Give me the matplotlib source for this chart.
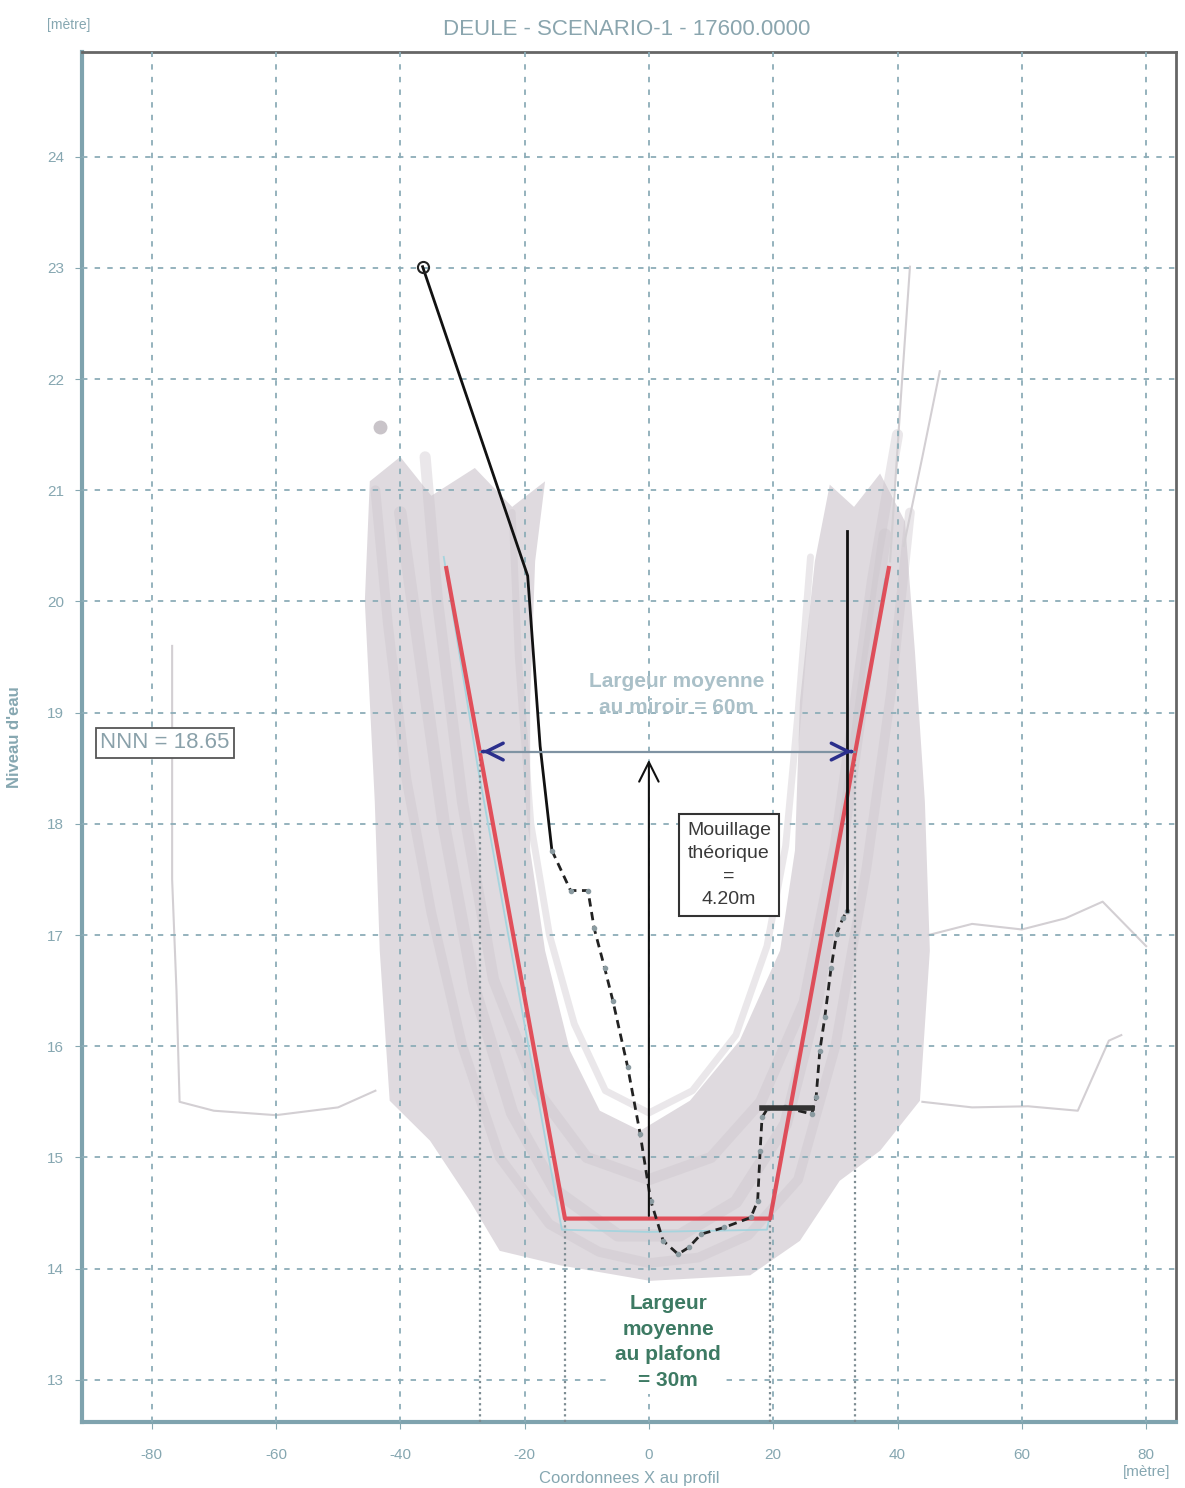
import matplotlib
matplotlib.use("Agg")
import matplotlib.pyplot as plt

plt.rcParams['font.family'] = ['Liberation Sans', 'DejaVu Sans']
plt.rcParams['axes.unicode_minus'] = False

# --- donnees lues sur le profil ---
# profil theorique (trapeze rouge)
theo_x = [-32.6, -13.5, 19.5, 38.6]
theo_y = [20.3, 14.45, 14.45, 20.3]

# profil mesure (noir) : partie haute rive gauche, partie basse, rive droite
mes_haut_x = [-36.4, -19.5, -17.5, -15.6]
mes_haut_y = [23.01, 20.23, 18.70, 17.76]
mes_bas_x = [-15.6, -12.6, -9.8, -8.8, -7.1, -5.8, -3.4, -1.4, 0.3, 2.3, 4.7, 6.4,
             8.4, 12.1, 16.4, 17.5, 17.9, 18.2, 19.1, 21.9, 26.2, 26.9, 27.5, 28.3,
             29.3, 30.2, 31.2, 31.9]
mes_bas_y = [17.76, 17.40, 17.40, 17.06, 16.70, 16.41, 15.81, 15.21, 14.61, 14.25,
             14.13, 14.19, 14.31, 14.37, 14.46, 14.61, 15.06, 15.36, 15.44, 15.45,
             15.39, 15.54, 15.96, 16.26, 16.70, 17.01, 17.15, 17.22]
mes_droite_x = [31.9, 31.9]
mes_droite_y = [17.22, 20.63]

# nuage des profils releves (enveloppe grise en U)
nuage_ext_x = [-44.9, -45.7, -44.1, -43.3, -41.7, -35.2, -28.8, -24.0, -14.3, 0.2,
               16.3, 24.3, 30.7, 37.2, 43.6, 45.2, 44.4, 42.8, 41.2, 37.2, 33.0, 29.1]
nuage_ext_y = [21.08, 20.00, 18.20, 16.86, 15.51, 15.15, 14.61, 14.16, 14.03, 13.89,
               13.94, 14.25, 14.79, 15.06, 15.51, 16.86, 18.20, 19.55, 20.72, 21.15,
               20.85, 21.05]
nuage_int_x = [26.7, 24.3, 23.5, 21.1, 14.6, 6.6, -1.4, -7.9, -12.7, -16.7, -19.1,
               -19.1, -18.3, -16.7, -22.0, -28.0, -35.0, -40.0]
nuage_int_y = [20.36, 19.10, 17.76, 16.86, 16.05, 15.51, 15.24, 15.42, 15.96, 16.86,
               17.76, 19.10, 20.36, 21.08, 20.85, 21.2, 20.95, 21.3]

# quelques profils gris individuels
gris1_x = [-44, -42, -39, -35, -30, -24, -16, -8, 0, 8, 16, 24, 30, 35, 39, 42]
gris1_y = [21.0, 19.8, 18.4, 17.2, 16.0, 15.0, 14.4, 14.15, 14.05, 14.1, 14.3, 14.8,
           16.0, 17.6, 19.2, 20.8]
gris2_x = [-40, -37, -33, -28, -22, -15, -5, 5, 14, 22, 27, 31, 35, 38]
gris2_y = [20.8, 19.6, 18.0, 16.5, 15.4, 14.7, 14.3, 14.3, 14.6, 15.3, 16.4, 17.8,
           19.4, 20.6]
gris3_x = [-22, -21, -19, -16, -12, -7, 0, 7, 14, 19, 22, 24, 26]
gris3_y = [20.8, 19.5, 18.0, 17.0, 16.2, 15.6, 15.4, 15.6, 16.1, 16.9, 17.8, 19.0, 20.4]
gris4_x = [-36, -34, -30, -25, -18, -10, 0, 10, 18, 25, 30, 33, 36, 40]
gris4_y = [21.3, 20.0, 18.2, 16.6, 15.6, 15.0, 14.8, 15.0, 15.5, 16.4, 17.8, 19.0,
           20.2, 21.5]
gris_gauche_x = [-76.7, -76.7, -76.0, -75.5, -70, -60, -50, -44]
gris_gauche_y = [19.6, 17.5, 16.5, 15.5, 15.42, 15.38, 15.45, 15.6]
gris_droite_x = [45, 52, 60, 67, 73, 80]
gris_droite_y = [17.0, 17.1, 17.05, 17.15, 17.3, 16.9]
gris_droite2_x = [44, 52, 61, 69, 74, 76]
gris_droite2_y = [15.5, 15.45, 15.46, 15.42, 16.05, 16.1]
gris_haut_x = [38.8, 40.5, 42.0]
gris_haut_y = [20.36, 21.8, 23.01]
gris_haut2_x = [41.0, 44.0, 46.8]
gris_haut2_y = [20.5, 21.3, 22.07]
bleu_x = [-33.0, -27.5, -14.0, 0.0, 19.0, 32.5, 38.0]
bleu_y = [20.4, 18.5, 14.35, 14.33, 14.35, 18.4, 20.2]

nnn = 18.65
miroir_g, miroir_d = -27.2, 33.1
fond = 14.45
xticks = [-80, -60, -40, -20, 0, 20, 40, 60, 80]
yticks = [13, 14, 15, 16, 17, 18, 19, 20, 21, 22, 23, 24]

bleu_gris = '#86a7b1'

fig = plt.figure(figsize=(11.85, 14.88), dpi=100)
ax = fig.add_axes([0.0692, 0.0443, 0.9232, 0.9207])
ax.set_xlim(-91.2, 84.8)
ax.set_ylim(12.62, 24.94)

# nuage gris
ax.fill(nuage_ext_x + nuage_int_x, nuage_ext_y + nuage_int_y,
        color='#dfdadf', lw=0, zorder=1)
for gx, gy, lw in [(gris1_x, gris1_y, 7), (gris2_x, gris2_y, 9),
                   (gris3_x, gris3_y, 5), (gris4_x, gris4_y, 8)]:
    ax.plot(gx, gy, color='#cbc5cb', lw=lw, alpha=0.4, zorder=1.2,
            solid_capstyle='round')
for gx, gy in [(gris_gauche_x, gris_gauche_y), (gris_droite_x, gris_droite_y),
               (gris_droite2_x, gris_droite2_y), (gris_haut_x, gris_haut_y),
               (gris_haut2_x, gris_haut2_y)]:
    ax.plot(gx, gy, color='#d3cfd3', lw=1.5, zorder=1.2)
ax.plot([-43.3], [21.57], 'o', color='#c9c4c9', ms=9, zorder=1.2)
ax.plot(bleu_x, bleu_y, color='#a6d4de', lw=1.3, zorder=2.8)

# lignes de projection verticales
for xv, ytop in [(miroir_g, nnn), (miroir_d, nnn), (theo_x[1], fond), (theo_x[2], fond)]:
    ax.plot([xv, xv], [12.62, ytop], color='#7d8c92', lw=1.6, ls=(0, (1, 1.5)), zorder=2.9)

# profil theorique
ax.plot(theo_x, theo_y, color='#e2404c', lw=3, alpha=0.9, zorder=3)

# profil mesure
ax.plot(mes_haut_x, mes_haut_y, color='#111111', lw=2, zorder=4)
ax.plot(mes_haut_x[:1], mes_haut_y[:1], 'o', mfc='none', mec='#222222', ms=8, mew=1.5, zorder=4)
ax.plot(mes_bas_x, mes_bas_y, color='#222222', lw=2, ls=(0, (3, 2)), zorder=4)
ax.plot(mes_bas_x, mes_bas_y, 'o', color='#8a9aa0', ms=3, zorder=4)
ax.plot(mes_droite_x, mes_droite_y, color='#111111', lw=2, zorder=4)
ax.plot([18.2, 26.2], [15.44, 15.44], color='#333333', lw=4, zorder=4)

# largeur au miroir
ax.plot([miroir_g, miroir_d], [nnn, nnn], color='#7f93a3', lw=1.6, zorder=5)
ax.annotate('', xy=(miroir_g, nnn), xytext=(miroir_g + 1, nnn),
            arrowprops=dict(arrowstyle='->', color='#2b2f8c', lw=2.5, mutation_scale=30),
            zorder=6)
ax.annotate('', xy=(miroir_d, nnn), xytext=(miroir_d - 1, nnn),
            arrowprops=dict(arrowstyle='->', color='#2b2f8c', lw=2.5, mutation_scale=30),
            zorder=6)
ax.text(4.5, 19.16, 'Largeur moyenne\nau miroir = 60m', ha='center', va='center',
        fontsize=15, fontweight='bold', color='#aac0c8', linespacing=1.45, zorder=6)

# mouillage
ax.annotate('', xy=(0, nnn - 0.05), xytext=(0, fond),
            arrowprops=dict(arrowstyle='->', color='#111111', lw=1.5, mutation_scale=35),
            zorder=6)
ax.text(12.9, 17.63, 'Mouillage\nthéorique\n=\n4.20m', ha='center', va='center',
        fontsize=14, color='#3a3a3a', linespacing=1.45, zorder=6,
        bbox=dict(boxstyle='square,pad=0.4', fc='white', ec='#333333', lw=1.5))

# largeur au plafond
ax.text(3.1, 13.34, 'Largeur\nmoyenne\nau plafond\n= 30m', ha='center', va='center',
        fontsize=15, fontweight='bold', color='#3d7a63', linespacing=1.45, zorder=6,
        bbox=dict(boxstyle='square,pad=0.2', fc='white', ec='none'))

# NNN
ax.text(-88.3, 18.73, 'NNN = 18.65', ha='left', va='center', fontsize=16,
        color='#8aa1aa', zorder=6,
        bbox=dict(boxstyle='square,pad=0.2', fc='white', ec='#555555', lw=1.3))

# grille et axes
ax.set_xticks(xticks)
ax.set_yticks(yticks)
ax.set_xticklabels([str(v) for v in xticks])
ax.grid(True, color='#8cadb8', lw=1.3, ls=(0, (3, 4)))
ax.set_axisbelow(False)
ax.tick_params(colors=bleu_gris, labelsize=11, length=5, pad=8)
ax.tick_params(axis='x', pad=14)
for s in ['left', 'bottom']:
    ax.spines[s].set_color('#7fa3ae')
    ax.spines[s].set_linewidth(3)
for s in ['top', 'right']:
    ax.spines[s].set_color('#666666')
    ax.spines[s].set_linewidth(2)

ax.set_xlabel('Coordonnees X au profil', fontsize=12, color=bleu_gris, labelpad=6)
ax.set_ylabel("Niveau d'eau", fontsize=12, fontweight='bold', color=bleu_gris, labelpad=18)
fig.text(0.529, 0.980, 'DEULE - SCENARIO-1 - 17600.0000', ha='center', va='center',
         fontsize=16, color='#8aa5ae')
fig.text(0.058, 0.983, '[mètre]', ha='center', va='center', fontsize=10, color=bleu_gris)
fig.text(0.968, 0.011, '[mètre]', ha='center', va='center', fontsize=11, color=bleu_gris)

fig.savefig('out.png', dpi=100)
plt.close(fig)
